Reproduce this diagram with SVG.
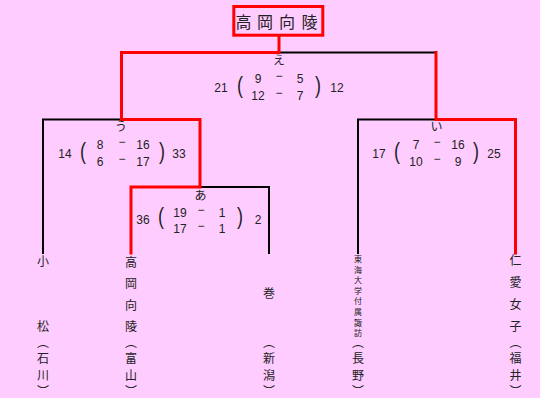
<svg xmlns="http://www.w3.org/2000/svg" width="540" height="398" viewBox="0 0 540 398">
<style>
.bg{fill:#FFCCFF}
.k{stroke:#000;stroke-width:2;fill:none;stroke-linecap:square}
.r{stroke:#FF0000;stroke-width:3;fill:none;stroke-linecap:square}
.n{font-family:"Liberation Sans","Noto Sans CJK JP",sans-serif;font-size:12px;fill:#222;text-anchor:middle}
.p{font-family:"Liberation Sans","Noto Sans CJK JP",sans-serif;font-size:18px;fill:#222;text-anchor:middle}
.j{font-family:"Noto Sans CJK JP",sans-serif;font-size:12px;fill:#222;text-anchor:middle}
.v{font-family:"Noto Sans CJK JP",sans-serif;font-size:12px;fill:#222;writing-mode:vertical-rl}
.ls{letter-spacing:4.4px}
.s{font-family:"Noto Sans CJK JP",sans-serif;font-size:8px;fill:#222;text-anchor:middle}
.t{font-family:"Noto Sans CJK JP",sans-serif;font-size:16px;fill:#222;text-anchor:middle}
</style>
<rect class="bg" x="0" y="0" width="540" height="398"/>

<g id="connectors">
  <path class="k" d="M279,52.5 H436"/>
  <path class="k" d="M121.5,119.5 H43 V253"/>
  <path class="k" d="M200,187 H269 V253"/>
  <path class="k" d="M436,119.5 H358 V253"/>
  <path class="r" d="M279,37 V52.5 H121.5 V119.5 H200 V187 H131 V253"/>
  <path class="r" d="M436,52.5 V119.5 H515.5 V253"/>
</g>

<g id="champion">
  <rect x="233.8" y="6.5" width="89" height="28.7" fill="none" stroke="#FF0000" stroke-width="3"/>
  <text class="t" x="243.5 265 287 309.5" y="27.5">高岡向陵</text>
</g>

<g id="match-e">
  <text class="j" x="279" y="64.6">え</text>
  <text class="n" x="221" y="92">21</text>
  <text class="p" transform="translate(240,92.8) scale(1,1.35)">(</text>
  <text class="n"><tspan x="258" y="83.3">9</tspan><tspan x="279" y="80.3">−</tspan><tspan x="300" y="83.3">5</tspan></text>
  <text class="n"><tspan x="258" y="100.3">12</tspan><tspan x="279" y="97.3">−</tspan><tspan x="300" y="100.3">7</tspan></text>
  <text class="p" transform="translate(318,92.8) scale(1,1.35)">)</text>
  <text class="n" x="337" y="92">12</text>
</g>

<g id="match-u">
  <text class="j" x="121" y="131.3">う</text>
  <text class="n" x="65" y="157.6">14</text>
  <text class="p" transform="translate(83,158.5) scale(1,1.35)">(</text>
  <text class="n"><tspan x="100" y="149.3">8</tspan><tspan x="122" y="146.3">−</tspan><tspan x="143" y="149.3">16</tspan></text>
  <text class="n"><tspan x="100" y="166">6</tspan><tspan x="122" y="163">−</tspan><tspan x="143" y="166">17</tspan></text>
  <text class="p" transform="translate(162,158.5) scale(1,1.35)">)</text>
  <text class="n" x="179" y="157.6">33</text>
</g>

<g id="match-a">
  <text class="j" x="200.5" y="199.6">あ</text>
  <text class="n" x="143" y="224.3">36</text>
  <text class="p" transform="translate(161,223.5) scale(1,1.35)">(</text>
  <text class="n"><tspan x="180" y="216.6">19</tspan><tspan x="201" y="213.6">−</tspan><tspan x="222" y="216.6">1</tspan></text>
  <text class="n"><tspan x="180" y="232.6">17</tspan><tspan x="201" y="229.6">−</tspan><tspan x="222" y="232.6">1</tspan></text>
  <text class="p" transform="translate(240,223.5) scale(1,1.35)">)</text>
  <text class="n" x="258" y="224.3">2</text>
</g>

<g id="match-i">
  <text class="j" x="436.5" y="131.3">い</text>
  <text class="n" x="379" y="157.6">17</text>
  <text class="p" transform="translate(397,158.5) scale(1,1.35)">(</text>
  <text class="n"><tspan x="416" y="149.3">7</tspan><tspan x="437" y="146.3">−</tspan><tspan x="458" y="149.3">16</tspan></text>
  <text class="n"><tspan x="416" y="166">10</tspan><tspan x="437" y="163">−</tspan><tspan x="458" y="166">9</tspan></text>
  <text class="p" transform="translate(476,158.5) scale(1,1.35)">)</text>
  <text class="n" x="494" y="157.6">25</text>
</g>

<g id="team-komatsu">
  <text class="j" x="43 43" y="265.6 330.6">小松</text>
  <text class="v" x="43" y="336.5"><tspan class="ls">（石川</tspan>）</text>
</g>
<g id="team-takaokakoryo">
  <text class="j" x="131 131 131 131" y="266.6 287.9 309.6 330.6">高岡向陵</text>
  <text class="v" x="131" y="336.5"><tspan class="ls">（富山</tspan>）</text>
</g>
<g id="team-maki">
  <text class="j" x="269" y="297.9">巻</text>
  <text class="v" x="269" y="336.5"><tspan class="ls">（新潟</tspan>）</text>
</g>
<g id="team-tokaisuwa">
  <text class="s" x="358 358 358 358 358 358 358 358" y="262 272.6 283.2 293.8 304.4 315 325.6 336.2">東海大学付属諏訪</text>
  <text class="v" x="358" y="336.5"><tspan class="ls">（長野</tspan>）</text>
</g>
<g id="team-jin-ai">
  <text class="j" x="515.5 515.5 515.5 515.5" y="265.3 287.3 308.6 330.6">仁愛女子</text>
  <text class="v" x="515.5" y="336.5"><tspan class="ls">（福井</tspan>）</text>
</g>
</svg>
